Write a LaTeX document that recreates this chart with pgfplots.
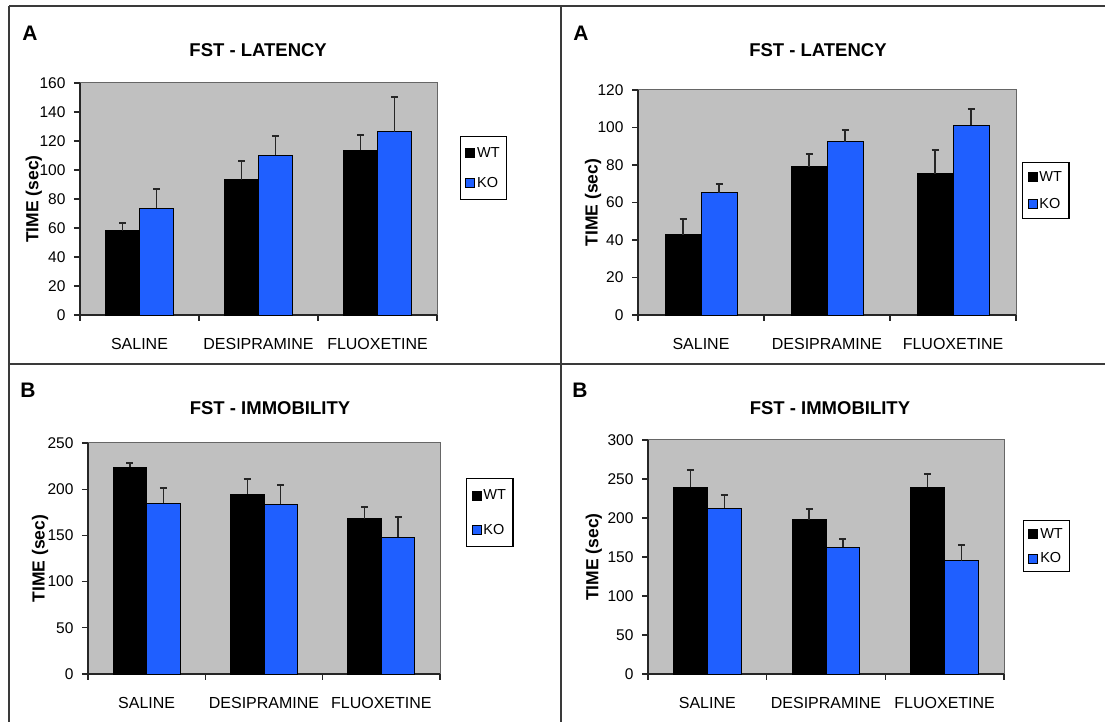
\documentclass[border=0pt]{standalone}
\usepackage{pgfplots}
\pgfplotsset{compat=1.18}
\usepackage{fontspec}
\setmainfont{Liberation Sans}
\definecolor{plotgray}{HTML}{C0C0C0}
\definecolor{koblue}{HTML}{1F5FFF}
\definecolor{framegray}{HTML}{3A3A3A}
\definecolor{axdark}{HTML}{262626}

\pgfplotsset{
 panel/.style={
  scale only axis,
  clip=false,
  axis background/.style={fill=plotgray, draw=gray!80!black, line width=1pt},
  axis x line*=bottom, axis y line*=left,
  axis line style={-, line width=1.3pt, axdark},
  xmin=-0.5, xmax=2.5, ymin=0,
  xtick={-0.5,0.5,1.5,2.5}, xticklabels={,,,},
  extra x ticks={0,1,2},
  extra x tick labels={SALINE,DESIPRAMINE,FLUOXETINE},
  extra x tick style={major tick length=0pt, tick style={draw=none}},
  tick align=outside,
  major tick length=6pt,
  tick style={line width=1.3pt, axdark},
  x tick label style={font=\fontsize{16}{18}\selectfont, yshift=-20pt},
  y tick label style={font=\fontsize{15.5}{17}\selectfont, xshift=-5pt},
  /pgf/number format/assume math mode=true,
  scaled y ticks=false,
  ylabel={TIME (sec)},
  title style={font=\bfseries\fontsize{18.5}{20}\selectfont, anchor=center, yshift=-6pt},
  ybar, bar width=0.2857,
  legend style={draw=black, line width=1.2pt, font=\fontsize{14.5}{16}\selectfont,
    anchor=north west, inner xsep=5pt, inner ysep=6pt, row sep=12pt},
  legend cell align=left,
 },
 ylab/.style={ylabel style={at={(axis description cs:#1,0.5)}, anchor=center,
    font=\bfseries\fontsize{17.5}{19}\selectfont}},
 wt/.style={fill=black, draw=black, line width=0.9pt, bar shift=-0.142857,
   error bars/.cd, y dir=plus, y explicit, error mark=|,
   error bar style={line width=1.3pt, axdark},
   error mark options={line width=2pt, mark size=3.5pt, axdark},
   /pgfplots/.cd,
   legend image code/.code={\draw[fill=black,draw=black,line width=0.8pt] (0pt,-4.5pt) rectangle (9pt,4.5pt);}},
 ko/.style={fill=koblue, draw=black, line width=0.9pt, bar shift=0.142857,
   error bars/.cd, y dir=plus, y explicit, error mark=|,
   error bar style={line width=1.3pt, axdark},
   error mark options={line width=2pt, mark size=3.5pt, axdark},
   /pgfplots/.cd,
   legend image code/.code={\draw[fill=koblue,draw=black,line width=0.8pt] (0pt,-4.5pt) rectangle (9pt,4.5pt);}},
}

\begin{document}
\begin{tikzpicture}[x=1pt,y=1pt]
\useasboundingbox (0,0) rectangle (1105,722);
% frame
\draw[framegray, line width=1.6pt] (9,716) -- (1105,716);
\draw[framegray, line width=1.6pt] (9,716) -- (9,0);
\draw[framegray, line width=1.6pt] (561,716) -- (561,0);
\draw[framegray, line width=1.6pt] (9,358) -- (1105,358);
% panel letters
\node[font=\bfseries\fontsize{21}{23}\selectfont] at (30,689) {A};
\node[font=\bfseries\fontsize{21}{23}\selectfont] at (581,689) {A};
\node[font=\bfseries\fontsize{21}{23}\selectfont] at (28,332) {B};
\node[font=\bfseries\fontsize{21}{23}\selectfont] at (580,332) {B};

% Panel 1
\begin{axis}[panel, at={(80pt,407pt)}, anchor=south west, width=357pt, height=232pt,
  ymax=160, ytick distance=20, ylab=-0.129,
  title={FST - LATENCY}, title style={at={(axis description cs:0.499,1.142)}},
  legend style={at={(axis description cs:1.064,0.772)}, row sep=14pt, inner ysep=9pt}]
\addplot[wt] coordinates {(0,58.2) +- (0,5) (1,93.3) +- (0,13) (2,113.6) +- (0,10.4)};
\addplot[ko] coordinates {(0,73.6) +- (0,13.4) (1,110) +- (0,13.7) (2,126.4) +- (0,23.6)};
\legend{WT,KO}
\end{axis}

% Panel 2
\begin{axis}[panel, at={(638pt,407pt)}, anchor=south west, width=378pt, height=225pt,
  ymax=120, ytick distance=20, ylab=-0.119,
  title={FST - LATENCY}, title style={at={(axis description cs:0.476,1.178)}},
  legend style={at={(axis description cs:1.016,0.68)}, row sep=11pt, inner ysep=7pt}]
\addplot[wt] coordinates {(0,42.8) +- (0,8.5) (1,79) +- (0,7.1) (2,75.4) +- (0,12.8)};
\addplot[ko] coordinates {(0,65.3) +- (0,4.5) (1,92.5) +- (0,6.4) (2,101.2) +- (0,8.8)};
\legend{WT,KO}
\end{axis}

% Panel 3
\begin{axis}[panel, at={(88pt,48pt)}, anchor=south west, width=352pt, height=231pt,
  ymax=250, ytick distance=50, ylab=-0.136,
  title={FST - IMMOBILITY}, title style={at={(axis description cs:0.517,1.152)}},
  legend style={at={(axis description cs:1.074,0.848)}, row sep=19pt, inner ysep=9pt}]
\addplot[wt] coordinates {(0,223.7) +- (0,5.1) (1,194.6) +- (0,16.2) (2,168) +- (0,13)};
\addplot[ko] coordinates {(0,184.9) +- (0,16.5) (1,183.5) +- (0,20.5) (2,147.8) +- (0,22)};
\legend{WT,KO}
\end{axis}

% Panel 4
\begin{axis}[panel, at={(648pt,48pt)}, anchor=south west, width=356pt, height=234pt,
  ymax=300, ytick distance=50, ylab=-0.152,
  title={FST - IMMOBILITY}, title style={at={(axis description cs:0.511,1.137)}},
  legend style={at={(axis description cs:1.053,0.658)}, row sep=9pt, inner ysep=5.5pt}]
\addplot[wt] coordinates {(0,239.3) +- (0,22.7) (1,197.9) +- (0,13.1) (2,239.3) +- (0,17.1)};
\addplot[ko] coordinates {(0,212.8) +- (0,16.2) (1,162.8) +- (0,10.2) (2,145.3) +- (0,20.1)};
\legend{WT,KO}
\end{axis}
\end{tikzpicture}
\end{document}
